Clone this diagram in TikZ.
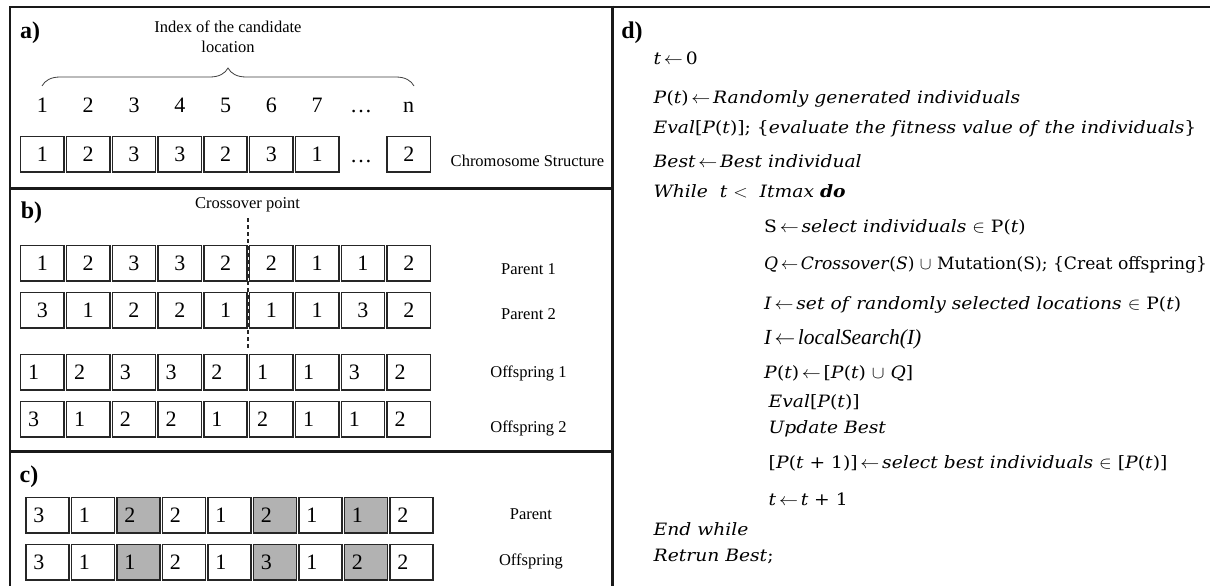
\documentclass[tikz,border=0pt]{standalone}
\usepackage{graphicx}
\usepackage{fontspec}
\setmainfont{Liberation Serif}
\newfontfamily\algfont{DejaVu Serif}
\usetikzlibrary{decorations.pathreplacing}
\newcommand{\myarr}{\kern2.5pt$\leftarrow$\kern2.5pt}
\newcommand{\hsw}[1]{\scalebox{1.1}[1]{#1}}
\begin{document}
\begin{tikzpicture}[x=1pt,y=-1pt,
  cell/.style={draw=black!85, line width=1.5pt, minimum width=43.3pt, minimum height=35.5pt, inner sep=0pt, font=\fontsize{22}{22}\selectfont},
  cellL/.style={cell, align=left, text width=28.3pt, inner xsep=7.5pt},
  digit/.style={anchor=base, inner sep=0pt, font=\fontsize{22}{22}\selectfont},
  lbl/.style={anchor=base, inner sep=0pt, font=\fontsize{16.5}{20}\selectfont},
  pan/.style={inner sep=0pt, font=\bfseries\fontsize{24}{24}\selectfont},
  alg/.style={anchor=base west, inner sep=0pt, font=\algfont\fontsize{17}{20}\selectfont},
]
\useasboundingbox[fill=white] (0,0) rectangle (1221,586);

% frames
\draw[line width=2.5pt, black!90] (9,7) -- (612,7);
\draw[line width=1.3pt, black!90] (612,7) -- (1210,7);
\draw[line width=1.5pt, black!90] (10,7) -- (10,586);
\draw[line width=3pt, black!90] (612,5.75) -- (612,586);
\draw[line width=3pt, black!90] (10,188) -- (612,188);
\draw[line width=3pt, black!90] (10,451) -- (612,451);

% panel a
\node[pan] (la) at (30,33) {a)};
\node[inner sep=0pt, align=center, font=\fontsize{16.5}{20}\selectfont] (idx) at (228,37) {Index of the candidate\\location};
\coordinate (bl) at (42,86);
\coordinate (br) at (414,86);
\draw[decorate, decoration={brace, amplitude=18pt}, line width=0.8pt, black!75] (bl) -- (br);
\foreach \v [count=\k from 0] in {1,...,7}
  \node[digit] (i\k) at ({42.4+45.8*\k},112) {\v};
\node[digit] (idots) at (361,112) {\ldots};
\node[digit] (inn) at (408.5,112) {n};
\foreach \v [count=\k from 0] in {1,2,3,3,2,3,1}
  \node[cell] (a\k) at ({42.35+45.8*\k},154.2) {\v};
\node[digit] (adots) at (361,162) {\ldots};
\node[cell] (a8) at ({42.35+45.8*8},154.2) {2};
\node[lbl] (cs) at (527.5,166) {Chromosome Structure};

% panel b
\node[pan] (lb) at (31.5,213) {b)};
\node[lbl] (cp) at (247.5,208) {Crossover point};
\foreach \v [count=\k from 0] in {1,2,3,3,2,2,1,1,2}
  \node[cell] (p\k) at ({42.35+45.8*\k},263) {\v};
\foreach \v [count=\k from 0] in {3,1,2,2,1,1,1,3,2}
  \node[cell] (q\k) at ({42.35+45.8*\k},310) {\v};
\foreach \v [count=\k from 0] in {1,2,3,3,2,1,1,3,2}
  \node[cellL] (o\k) at ({42.35+45.8*\k},372) {\v};
\foreach \v [count=\k from 0] in {3,1,2,2,1,2,1,1,2}
  \node[cellL] (r\k) at ({42.35+45.8*\k},419) {\v};
\coordinate (cxt) at (248,218);
\coordinate (cxb) at (248,350);
\draw[dash pattern=on 4pt off 3pt, line width=1.2pt, black!85] (cxt) -- (cxb);
\node[lbl] (lp1) at (528.5,274) {Parent 1};
\node[lbl] (lp2) at (528.5,319) {Parent 2};
\node[lbl] (lo1) at (528.5,377) {Offspring 1};
\node[lbl] (lo2) at (528.5,432) {Offspring 2};

% panel c
\node[pan] (lc) at (29,477) {c)};
\foreach \v/\s [count=\k from 0] in {3/white,1/white,2/gray!60,2/white,1/white,2/gray!60,1/white,1/gray!60,2/white}
  \node[cellL, fill=\s] (cp\k) at ({47.4+45.5*\k},515) {\v};
\foreach \v/\s [count=\k from 0] in {3/white,1/white,1/gray!60,2/white,1/white,3/gray!60,1/white,2/gray!60,2/white}
  \node[cellL, fill=\s] (co\k) at ({47.4+45.5*\k},562) {\v};
\node[lbl] (lcp) at (531,519) {Parent};
\node[lbl] (lco) at (531,565) {Offspring};

% panel d
\node[pan] (ld) at (632,33) {d)};
\node[alg] (d1) at (653.5,65) {\hsw{\textit{t}\myarr 0}};
\node[alg] (d2) at (653.5,103) {\hsw{\textit{P}(\textit{t})\myarr\textit{Randomly generated individuals}}};
\node[alg] (d3) at (653.5,133) {\hsw{\textit{Eval}[\textit{P}(\textit{t})]; \{\textit{evaluate the f\kern1.5pt itness value of\kern1.5pt{} the individuals}\}}};
\node[alg] (d4) at (653.5,167) {\hsw{\textit{Best}\myarr\textit{Best individual}}};
\node[alg] (d5) at (653.5,197) {\hsw{\textit{While}\ \ \textit{t} $<$\ \ \textit{Itmax} \textbf{\textit{do}}}};
\node[alg] (d6) at (764,232) {\hsw{S\myarr\textit{select individuals} $\in$ P(\textit{t})}};
\node[alg] (d7) at (764,269) {\scalebox{1.01}[1]{\textit{Q}\myarr\textit{Crossover}(\textit{S}) $\cup$ Mutation(S); \{Creat offspring\}}};
\node[alg] (d8) at (764,309) {\hsw{\textit{I}\myarr\textit{set of\kern1.5pt{} randomly selected locations} $\in$ P(\textit{t})}};
\node[alg, font=\fontsize{21.5}{22}\selectfont] (d9) at (764,344) {\textit{I}\myarr\textit{localSearch(I)}};
\node[alg] (d10) at (764,378) {\hsw{\textit{P}(\textit{t})\myarr[\textit{P}(\textit{t}) $\cup$ \textit{Q}]}};
\node[alg] (d11) at (768.5,407) {\hsw{\textit{Eval}[\textit{P}(\textit{t})]}};
\node[alg] (d12) at (768.5,433) {\hsw{\textit{Update Best}}};
\node[alg] (d13) at (768.5,468) {\hsw{[\textit{P}(\textit{t} + 1)]\myarr\textit{select best individuals} $\in$ [\textit{P}(\textit{t})]}};
\node[alg] (d14) at (768.5,505) {\hsw{\textit{t}\myarr\textit{t} + 1}};
\node[alg] (d15) at (653.5,535) {\hsw{\textit{End while}}};
\node[alg] (d16) at (653.5,561) {\hsw{\textit{Retrun Best};}};
\end{tikzpicture}
\end{document}
